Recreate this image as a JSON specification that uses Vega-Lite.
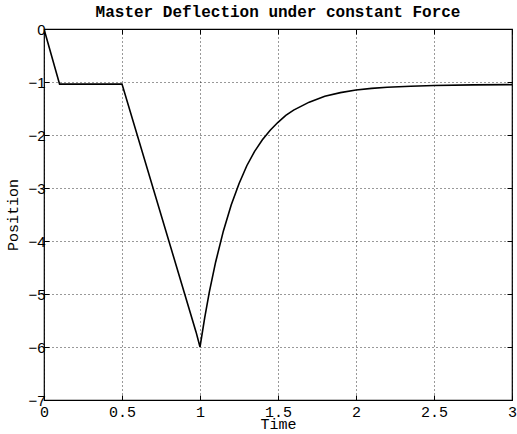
{
  "$schema": "https://vega.github.io/schema/vega-lite/v6.json",
  "autosize": "none",
  "width": 468,
  "height": 371,
  "padding": {"left": 44, "top": 29, "right": 5, "bottom": 34},
  "background": "white",
  "title": {
    "text": "Master Deflection under constant Force",
    "font": "Liberation Mono",
    "fontSize": 16,
    "fontWeight": "bold",
    "color": "black",
    "anchor": "middle",
    "offset": 2
  },
  "config": {
    "view": {"stroke": "black", "strokeWidth": 1.2},
    "axis": {
      "grid": true,
      "gridColor": "black",
      "gridDash": [1, 3],
      "gridOpacity": 0.8,
      "gridWidth": 1,
      "domain": false,
      "ticks": true,
      "tickColor": "black",
      "tickSize": -5,
      "tickWidth": 1,
      "labelColor": "black",
      "titleColor": "black",
      "titleFontWeight": "normal"
    }
  },
  "data": {
    "values": [
      {"t": 0.0, "p": 0.0},
      {"t": 0.1, "p": -1.04},
      {"t": 0.5, "p": -1.04},
      {"t": 0.975, "p": -5.72},
      {"t": 1.0, "p": -6.0},
      {"t": 1.03, "p": -5.45},
      {"t": 1.06, "p": -4.96},
      {"t": 1.1, "p": -4.4},
      {"t": 1.15, "p": -3.81},
      {"t": 1.2, "p": -3.32},
      {"t": 1.25, "p": -2.92},
      {"t": 1.3, "p": -2.58},
      {"t": 1.35, "p": -2.31},
      {"t": 1.4, "p": -2.09},
      {"t": 1.45, "p": -1.91},
      {"t": 1.5, "p": -1.76},
      {"t": 1.55, "p": -1.63},
      {"t": 1.6, "p": -1.53},
      {"t": 1.7, "p": -1.38},
      {"t": 1.8, "p": -1.27},
      {"t": 1.9, "p": -1.2},
      {"t": 2.0, "p": -1.15},
      {"t": 2.1, "p": -1.12},
      {"t": 2.2, "p": -1.1},
      {"t": 2.35, "p": -1.08},
      {"t": 2.5, "p": -1.065},
      {"t": 2.75, "p": -1.055},
      {"t": 3.0, "p": -1.05}
    ]
  },
  "resolve": {"axis": {"x": "independent", "y": "independent"}},
  "layer": [
    {
      "mark": {"type": "line", "color": "black", "strokeWidth": 1.6, "clip": true},
      "encoding": {
        "x": {
          "field": "t",
          "type": "quantitative",
          "scale": {"domain": [0, 3], "nice": false},
          "axis": {
            "title": "Time",
            "values": [0, 0.5, 1, 1.5, 2, 2.5, 3],
            "format": "~g",
            "labelFont": "Liberation Mono",
            "labelFontSize": 15,
            "labelPadding": 9,
            "labelFlush": false,
            "titleFont": "Liberation Mono",
            "titleFontSize": 15,
            "titlePadding": -3
          }
        },
        "y": {
          "field": "p",
          "type": "quantitative",
          "scale": {"domain": [-7, 0], "nice": false},
          "axis": {
            "title": "Position",
            "values": [0, -1, -2, -3, -4, -5, -6, -7],
            "labelFont": "Liberation Sans",
            "labelFontSize": 15,
            "labelPadding": 4,
            "labelFlush": false,
            "titleFont": "Liberation Mono",
            "titleFontSize": 15,
            "titlePadding": 7
          }
        }
      }
    },
    {
      "mark": {"type": "line", "opacity": 0},
      "encoding": {
        "x": {
          "field": "t",
          "type": "quantitative",
          "axis": {
            "orient": "top",
            "title": null,
            "labels": false,
            "grid": false,
            "values": [0, 0.5, 1, 1.5, 2, 2.5, 3]
          }
        },
        "y": {
          "field": "p",
          "type": "quantitative",
          "axis": {
            "orient": "right",
            "title": null,
            "labels": false,
            "grid": false,
            "values": [0, -1, -2, -3, -4, -5, -6, -7]
          }
        }
      }
    }
  ]
}
